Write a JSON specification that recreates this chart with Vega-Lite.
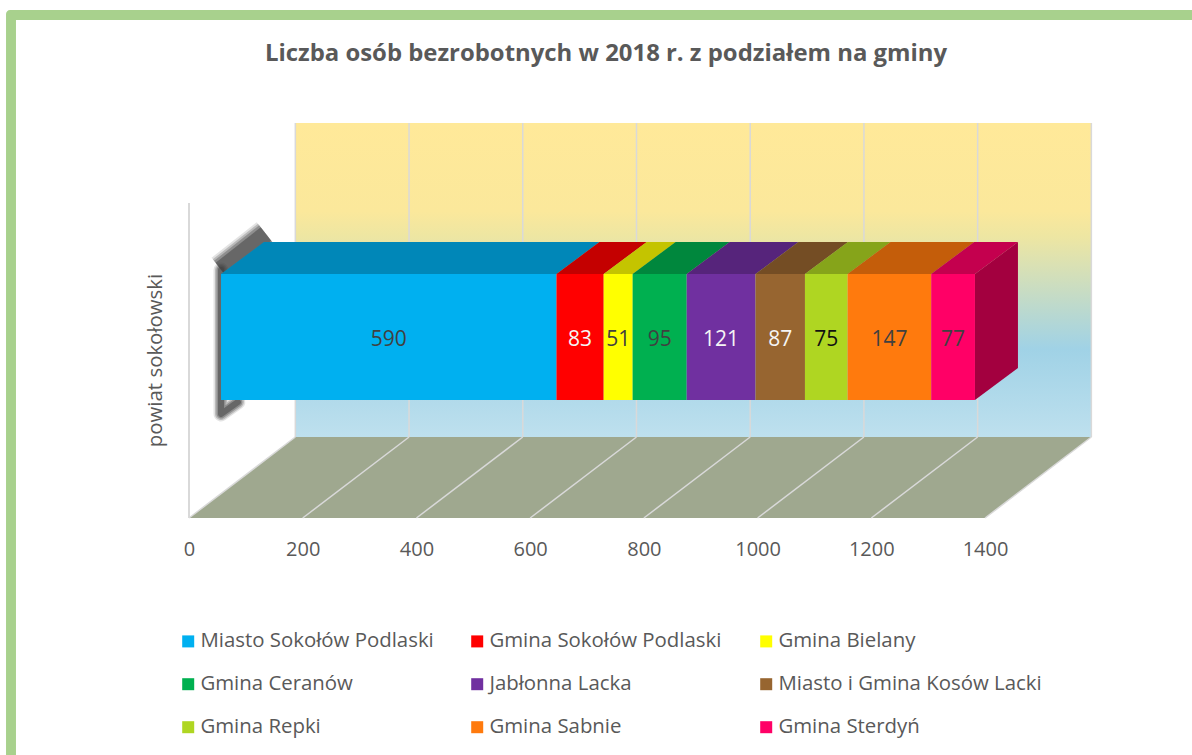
{
"$schema":"https://vega.github.io/schema/vega-lite/v6.json",
"width":1192,"height":755,"padding":0,"autosize":{"type":"none"},
"background":"white",
"config":{"view":{"stroke":null},"font":"Open Sans"},
"title":{"text":"Liczba osób bezrobotnych w 2018 r. z podziałem na gminy","font":"Open Sans","fontSize":23.9,"fontWeight":"bold","color":"#595959","anchor":"middle","frame":"group","dx":10,"dy":-4,"baseline":"top","offset":-70},
"datasets":{
"ramka":[{"x":-321.8,"x2":1764,"y":10,"y2":755}],
"tlo":[{"x":-304.3,"x2":1764,"y":20,"y2":755}],
"sciana":[{"x":187,"x2":1587,"y":123,"y2":437}],
"podloga":[{"y":518,"x":0,"x2":1400},{"y":437,"x":187,"x2":1587}],
"siatka":[{"v":0,"przod":0,"tyl":187},{"v":200,"przod":200,"tyl":387},{"v":400,"przod":400,"tyl":587},{"v":600,"przod":600,"tyl":787},{"v":800,"przod":800,"tyl":987},{"v":1000,"przod":1000,"tyl":1187},{"v":1200,"przod":1200,"tyl":1387},{"v":1400,"przod":1400,"tyl":1587}],
"os":[{"x":0,"y":203,"y2":518}],
"cien_gora":[{"k":1,"x":56,"y":269.5},{"k":2,"x":135.4,"y":234}],
"cien_lewy":[{"k":1,"x":86,"y":402},{"k":2,"x":56.3,"y":414},{"k":3,"x":56.3,"y":270}],
"gminy":[
{"gmina":"Miasto Sokołów Podlaski","wartosc":590,"od":0,"do":590,"srodek":295,"y":274,"y2":400,"yt":340},
{"gmina":"Gmina Sokołów Podlaski","wartosc":83,"od":590,"do":673,"srodek":631.5,"y":274,"y2":400,"yt":340},
{"gmina":"Gmina Bielany","wartosc":51,"od":673,"do":724,"srodek":698.5,"y":274,"y2":400,"yt":340},
{"gmina":"Gmina Ceranów","wartosc":95,"od":724,"do":819,"srodek":771.5,"y":274,"y2":400,"yt":340},
{"gmina":"Jabłonna Lacka","wartosc":121,"od":819,"do":940,"srodek":879.5,"y":274,"y2":400,"yt":340},
{"gmina":"Miasto i Gmina Kosów Lacki","wartosc":87,"od":940,"do":1027,"srodek":983.5,"y":274,"y2":400,"yt":340},
{"gmina":"Gmina Repki","wartosc":75,"od":1027,"do":1102,"srodek":1064.5,"y":274,"y2":400,"yt":340},
{"gmina":"Gmina Sabnie","wartosc":147,"od":1102,"do":1249,"srodek":1175.5,"y":274,"y2":400,"yt":340},
{"gmina":"Gmina Sterdyń","wartosc":77,"od":1249,"do":1326,"srodek":1287.5,"y":274,"y2":400,"yt":340}],
"gora":[
{"gmina":"Miasto Sokołów Podlaski","y":274,"x":0,"x2":590},{"gmina":"Miasto Sokołów Podlaski","y":242,"x":75.6,"x2":665.6},
{"gmina":"Gmina Sokołów Podlaski","y":274,"x":590,"x2":673},{"gmina":"Gmina Sokołów Podlaski","y":242,"x":665.6,"x2":748.6},
{"gmina":"Gmina Bielany","y":274,"x":673,"x2":724},{"gmina":"Gmina Bielany","y":242,"x":748.6,"x2":799.6},
{"gmina":"Gmina Ceranów","y":274,"x":724,"x2":819},{"gmina":"Gmina Ceranów","y":242,"x":799.6,"x2":894.6},
{"gmina":"Jabłonna Lacka","y":274,"x":819,"x2":940},{"gmina":"Jabłonna Lacka","y":242,"x":894.6,"x2":1015.6},
{"gmina":"Miasto i Gmina Kosów Lacki","y":274,"x":940,"x2":1027},{"gmina":"Miasto i Gmina Kosów Lacki","y":242,"x":1015.6,"x2":1102.6},
{"gmina":"Gmina Repki","y":274,"x":1027,"x2":1102},{"gmina":"Gmina Repki","y":242,"x":1102.6,"x2":1177.6},
{"gmina":"Gmina Sabnie","y":274,"x":1102,"x2":1249},{"gmina":"Gmina Sabnie","y":242,"x":1177.6,"x2":1324.6},
{"gmina":"Gmina Sterdyń","y":274,"x":1249,"x2":1326},{"gmina":"Gmina Sterdyń","y":242,"x":1324.6,"x2":1401.6}],
"bok":[{"x":1326,"y":274,"y2":400},{"x":1401.6,"y":242,"y2":368}]
},
"resolve":{"scale":{"x":"independent"},"axis":{"x":"independent","y":"independent"}},
"layer":[
{"data":{"name":"ramka"},"mark":{"type":"rect","color":"#A8D18D","cornerRadiusTopLeft":4},
 "encoding":{"x":{"field":"x","type":"quantitative","scale":{"domain":[-332.4,1764],"nice":false,"zero":false},"axis":null},
 "x2":{"field":"x2"},
 "y":{"field":"y","type":"quantitative","scale":{"domain":[0,755],"reverse":true,"nice":false,"zero":false},"axis":null},
 "y2":{"field":"y2"}}},
{"data":{"name":"tlo"},"mark":{"type":"rect","color":"white"},
 "encoding":{"x":{"field":"x","type":"quantitative","scale":{"domain":[-332.4,1764],"nice":false,"zero":false},"axis":null},"x2":{"field":"x2"},"y":{"field":"y","type":"quantitative","axis":null},"y2":{"field":"y2"}}},
{"data":{"name":"sciana"},"mark":{"type":"rect","color":{"gradient":"linear","x1":0,"y1":0,"x2":0,"y2":1,"stops":[{"offset":0,"color":"#FFE999"},{"offset":0.28,"color":"#FBE89B"},{"offset":0.36,"color":"#EEE6A2"},{"offset":0.72,"color":"#A0D2E6"},{"offset":1,"color":"#BEE0EE"}]}},
 "encoding":{"x":{"field":"x","type":"quantitative","scale":{"domain":[-332.4,1764],"nice":false,"zero":false},"axis":null},"x2":{"field":"x2"},"y":{"field":"y","type":"quantitative","axis":null},"y2":{"field":"y2"}}},
{"data":{"name":"siatka"},"mark":{"type":"rule","color":"#D9D9D9","strokeWidth":1.5},
 "encoding":{"x":{"field":"tyl","type":"quantitative","scale":{"domain":[-332.4,1764],"nice":false,"zero":false},"axis":null},"y":{"datum":123,"type":"quantitative","axis":null},"y2":{"datum":437}}},
{"data":{"name":"podloga"},"mark":{"type":"area","orient":"horizontal","color":"#9FA88F"},
 "encoding":{"y":{"field":"y","type":"quantitative","axis":null},"x":{"field":"x","type":"quantitative","scale":{"domain":[-332.4,1764],"nice":false,"zero":false},"axis":null,"stack":null},"x2":{"field":"x2"}}},
{"data":{"name":"siatka"},"mark":{"type":"rule","color":"#D9D9D9","strokeWidth":1.5},
 "encoding":{"x":{"field":"przod","type":"quantitative","scale":{"domain":[-332.4,1764],"nice":false,"zero":false},"axis":null},"x2":{"field":"tyl"},"y":{"datum":518,"type":"quantitative","axis":null},"y2":{"datum":437}}},
{"data":{"name":"cien_gora"},"mark":{"type":"line","color":"#404040","strokeWidth":30,"opacity":0.15,"strokeCap":"butt"},
 "encoding":{"x":{"field":"x","type":"quantitative","scale":{"domain":[-332.4,1764],"nice":false,"zero":false},"axis":null},"y":{"field":"y","type":"quantitative","axis":null},"order":{"field":"k"}}},
{"data":{"name":"cien_gora"},"mark":{"type":"line","color":"#404040","strokeWidth":26,"opacity":0.25,"strokeCap":"butt"},
 "encoding":{"x":{"field":"x","type":"quantitative","scale":{"domain":[-332.4,1764],"nice":false,"zero":false},"axis":null},"y":{"field":"y","type":"quantitative","axis":null},"order":{"field":"k"}}},
{"data":{"name":"cien_gora"},"mark":{"type":"line","color":"#404040","strokeWidth":22,"opacity":0.35,"strokeCap":"butt"},
 "encoding":{"x":{"field":"x","type":"quantitative","scale":{"domain":[-332.4,1764],"nice":false,"zero":false},"axis":null},"y":{"field":"y","type":"quantitative","axis":null},"order":{"field":"k"}}},
{"data":{"name":"cien_gora"},"mark":{"type":"line","color":"#404040","strokeWidth":17,"opacity":0.5,"strokeCap":"butt"},
 "encoding":{"x":{"field":"x","type":"quantitative","scale":{"domain":[-332.4,1764],"nice":false,"zero":false},"axis":null},"y":{"field":"y","type":"quantitative","axis":null},"order":{"field":"k"}}},
{"data":{"name":"cien_lewy"},"mark":{"type":"line","color":"#404040","strokeWidth":15,"opacity":0.15,"strokeJoin":"round","strokeCap":"round"},
 "encoding":{"x":{"field":"x","type":"quantitative","scale":{"domain":[-332.4,1764],"nice":false,"zero":false},"axis":null},"y":{"field":"y","type":"quantitative","axis":null},"order":{"field":"k"}}},
{"data":{"name":"cien_lewy"},"mark":{"type":"line","color":"#404040","strokeWidth":12,"opacity":0.25,"strokeJoin":"round","strokeCap":"round"},
 "encoding":{"x":{"field":"x","type":"quantitative","scale":{"domain":[-332.4,1764],"nice":false,"zero":false},"axis":null},"y":{"field":"y","type":"quantitative","axis":null},"order":{"field":"k"}}},
{"data":{"name":"cien_lewy"},"mark":{"type":"line","color":"#404040","strokeWidth":9,"opacity":0.35,"strokeJoin":"round","strokeCap":"round"},
 "encoding":{"x":{"field":"x","type":"quantitative","scale":{"domain":[-332.4,1764],"nice":false,"zero":false},"axis":null},"y":{"field":"y","type":"quantitative","axis":null},"order":{"field":"k"}}},
{"data":{"name":"cien_lewy"},"mark":{"type":"line","color":"#404040","strokeWidth":6,"opacity":0.5,"strokeJoin":"round","strokeCap":"round"},
 "encoding":{"x":{"field":"x","type":"quantitative","scale":{"domain":[-332.4,1764],"nice":false,"zero":false},"axis":null},"y":{"field":"y","type":"quantitative","axis":null},"order":{"field":"k"}}},
{"data":{"name":"os"},"mark":{"type":"rule","color":"#D9D9D9","strokeWidth":2},
 "encoding":{"x":{"field":"x","type":"quantitative","scale":{"domain":[-332.4,1764],"nice":false,"zero":false},
   "axis":{"values":[0,200,400,600,800,1000,1200,1400],"zindex":1,"title":null,"domain":false,"ticks":false,"grid":false,"offset":-216,"labelPadding":0,"labelFontSize":20,"labelColor":"#595959","labelFont":"Open Sans","format":"d","labelOverlap":false}},
 "y":{"field":"y","type":"quantitative",
   "axis":{"title":"powiat sokołowski","zindex":1,"titleX":155,"titleY":360,"titleAngle":270,"titleAlign":"center","titleBaseline":"middle","titleFontSize":20.4,"titleFontWeight":"normal","titleColor":"#595959","titleFont":"Open Sans","labels":false,"ticks":false,"domain":false,"grid":false}},
 "y2":{"field":"y2"}}},
{"data":{"name":"gora"},"mark":{"type":"area","orient":"horizontal"},
 "encoding":{"y":{"field":"y","type":"quantitative","axis":null},
 "x":{"field":"x","type":"quantitative","axis":null,"stack":null,"scale":{"domain":[-388.7,1707.7],"nice":false,"zero":false}},"x2":{"field":"x2"},
 "color":{"field":"gmina","type":"nominal","scale":{"domain":["Miasto Sokołów Podlaski","Gmina Sokołów Podlaski","Gmina Bielany","Gmina Ceranów","Jabłonna Lacka","Miasto i Gmina Kosów Lacki","Gmina Repki","Gmina Sabnie","Gmina Sterdyń"],"range":["#00B0F0","#FF0000","#FFFF00","#00B050","#7030A0","#976530","#AFD622","#FF7A0D","#FF0066"]},
  "legend":{"orient":"none","legendX":178,"legendY":631,"columns":3,"direction":"horizontal","gridAlign":"all","title":null,"symbolType":"square","symbolSize":144,"symbolStrokeWidth":0,"labelFontSize":20.4,"labelColor":"#595959","labelFont":"Open Sans","labelOffset":2,"columnPadding":3,"rowPadding":22,"labelLimit":400}}}},
{"data":{"name":"gora"},"mark":{"type":"area","orient":"horizontal","color":"#000000","opacity":0.23},
 "encoding":{"y":{"field":"y","type":"quantitative","axis":null},"x":{"field":"x","type":"quantitative","axis":null,"stack":null,"scale":{"domain":[-388.7,1707.7],"nice":false,"zero":false}},"x2":{"field":"x2"},"detail":{"field":"gmina"}}},
{"data":{"name":"bok"},"mark":{"type":"area","orient":"vertical","color":"#A3003F"},
 "encoding":{"x":{"field":"x","type":"quantitative","axis":null,"scale":{"domain":[-388.7,1707.7],"nice":false,"zero":false}},"y":{"field":"y","type":"quantitative","axis":null,"stack":null},"y2":{"field":"y2"}}},
{"data":{"name":"gminy"},"mark":{"type":"rect"},
 "encoding":{"x":{"field":"od","type":"quantitative","axis":null,"scale":{"domain":[-388.7,1707.7],"nice":false,"zero":false}},"x2":{"field":"do"},"y":{"field":"y","type":"quantitative","axis":null},"y2":{"field":"y2"},"color":{"field":"gmina","type":"nominal"}}},
{"data":{"name":"gminy"},"mark":{"type":"text","fontSize":21,"font":"Open Sans"},
 "encoding":{"x":{"field":"srodek","type":"quantitative","axis":null,"scale":{"domain":[-388.7,1707.7],"nice":false,"zero":false}},"y":{"field":"yt","type":"quantitative","axis":null},"text":{"field":"wartosc","type":"quantitative"},
 "color":{"condition":[{"test":"datum.wartosc==83||datum.wartosc==121||datum.wartosc==87","value":"#F5F5F5"},{"test":"datum.wartosc==75","value":"#111111"}],"value":"#404040"}}}
]
}
